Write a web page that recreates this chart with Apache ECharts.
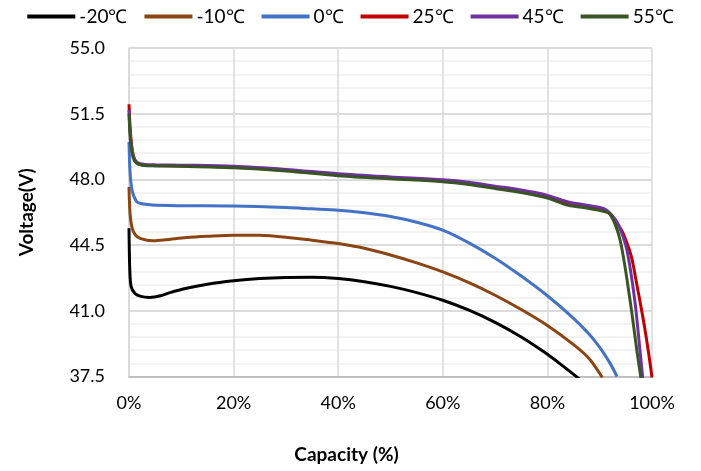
<!DOCTYPE html>
<html>
<head>
<meta charset="utf-8">
<script src="https://cdn.jsdelivr.net/npm/echarts@6/dist/echarts.min.js"></script>
<style>
html,body{margin:0;padding:0;background:#fff;}
#chart{width:701px;height:471px;}
</style>
</head>
<body>
<div id="chart"></div>
<script>
// ---- data ----
const seriesNames = ['-20℃', '-10℃', '0℃', '25℃', '45℃', '55℃'];
const xTicks = [0, 20, 40, 60, 80, 100];
const yTicks = [37.5, 41.0, 44.5, 48.0, 51.5, 55.0];

const capM20 = [0, 0.15, 0.4, 1.1, 2.1, 4, 6, 8, 11, 15, 20, 25, 30, 35, 40, 45, 50, 55, 60, 65, 70, 75, 80, 83, 86.2];
const voltM20 = [45.4, 43.2, 42.3, 41.93, 41.78, 41.71, 41.8, 41.98, 42.2, 42.42, 42.6, 42.72, 42.78, 42.79, 42.72, 42.55, 42.3, 41.97, 41.56, 41.03, 40.38, 39.6, 38.68, 38.05, 37.35];

const capM10 = [0, 0.2, 0.6, 1.2, 2.1, 4.6, 7, 11, 15, 20, 25, 30, 35, 40, 45, 50, 55, 60, 65, 70, 75, 80, 85, 88, 90.5];
const voltM10 = [47.6, 46.2, 45.4, 45.05, 44.86, 44.73, 44.78, 44.9, 44.97, 45.03, 45.02, 44.92, 44.76, 44.58, 44.33, 43.97, 43.55, 43.07, 42.5, 41.83, 41.07, 40.22, 39.2, 38.45, 37.45];

const cap0 = [0, 0.2, 0.6, 1.5, 2.5, 4.6, 10, 20, 30, 35, 40, 45, 50, 55, 60, 65, 70, 75, 80, 85, 88, 90, 92, 93.3];
const volt0 = [50.0, 48.4, 47.4, 46.8, 46.7, 46.63, 46.6, 46.58, 46.5, 46.43, 46.36, 46.22, 46.02, 45.72, 45.3, 44.62, 43.8, 42.85, 41.8, 40.6, 39.75, 39.05, 38.2, 37.5];

const cap25 = [0, 0.3, 0.8, 1.5, 3, 5, 10, 20, 30, 40, 50, 60, 65, 70, 75, 80, 84, 87.5, 90.7, 92.3, 93.6, 94.5, 96, 97, 98, 98.6, 99.3, 100];
const volt25 = [52.0, 50.4, 49.3, 48.9, 48.76, 48.74, 48.72, 48.65, 48.48, 48.25, 48.08, 47.93, 47.78, 47.57, 47.36, 47.08, 46.75, 46.58, 46.4, 46.05, 45.55, 45.12, 43.95, 42.55, 41.05, 40.1, 38.85, 37.45];

const cap45 = [0, 0.3, 0.8, 1.5, 3, 5, 10, 20, 30, 40, 50, 60, 65, 70, 75, 80, 84, 87.5, 90.7, 92.3, 93.6, 95.2, 96.7, 97.7, 98.3];
const volt45 = [51.7, 50.2, 49.25, 48.92, 48.8, 48.78, 48.76, 48.7, 48.53, 48.3, 48.13, 47.98, 47.85, 47.64, 47.43, 47.15, 46.8, 46.63, 46.45, 46.1, 45.57, 44.23, 41.57, 38.9, 37.2];

const cap55 = [0, 0.3, 0.8, 1.5, 3, 5, 10, 20, 30, 40, 50, 60, 65, 70, 75, 80, 84, 87.5, 90.7, 92, 93.9, 95.8, 97.1, 98.0];
const volt55 = [51.5, 50.0, 49.15, 48.85, 48.74, 48.72, 48.7, 48.62, 48.45, 48.2, 48.03, 47.88, 47.73, 47.52, 47.3, 47.0, 46.62, 46.48, 46.3, 46.15, 44.77, 41.57, 38.9, 37.2];

// ---- styles ----
const colors = ['#000000', '#8B4513', '#4472C4', '#C00000', '#7030A0', '#375623'];
const FONT = 'Lato, "Liberation Sans", sans-serif';

const caps = [capM20, capM10, cap0, cap25, cap45, cap55];
const volts = [voltM20, voltM10, volt0, volt25, volt45, volt55];

const chart = echarts.init(document.getElementById('chart'), null, {renderer: 'canvas'});
chart.setOption({
  animation: false,
  color: colors,
  textStyle: {fontFamily: FONT},
  legend: {
    top: 2,
    left: 'center',
    icon: 'rect',
    itemWidth: 48,
    itemHeight: 4,
    itemGap: 17,
    textStyle: {fontSize: 19, color: '#000', fontFamily: FONT, padding: [0, 0, 0, -1]},
    data: seriesNames
  },
  grid: {left: 129, right: 49, top: 48, bottom: 94.5, containLabel: false},
  xAxis: {
    type: 'value',
    min: xTicks[0],
    max: xTicks[xTicks.length - 1],
    interval: 20,
    name: 'Capacity (%)',
    nameLocation: 'middle',
    nameGap: 69,
    nameTextStyle: {fontSize: 19, fontWeight: 'bold', color: '#000', fontFamily: FONT, padding: [0, 88, 0, 0]},
    axisLine: {show: true, lineStyle: {color: '#bfbfbf', width: 2}},
    axisTick: {show: false},
    axisLabel: {fontSize: 18, color: '#000', margin: 18, formatter: v => v + '%'},
    splitLine: {show: true, lineStyle: {color: '#d9d9d9', width: 1.5}}
  },
  yAxis: {
    type: 'value',
    min: yTicks[0],
    max: yTicks[yTicks.length - 1],
    interval: 3.5,
    name: 'Voltage(V)',
    nameLocation: 'middle',
    nameGap: 93,
    nameTextStyle: {fontSize: 19, fontWeight: 'bold', color: '#000', fontFamily: FONT},
    axisLine: {show: true, lineStyle: {color: '#d9d9d9', width: 1.5}},
    axisTick: {show: false},
    axisLabel: {fontSize: 18, color: '#000', margin: 24, formatter: v => v.toFixed(1)},
    splitLine: {show: true, lineStyle: {color: '#d0d0d0', width: 1.5}},
    minorTick: {show: false, splitNumber: 5},
    minorSplitLine: {show: true, lineStyle: {color: '#efefef', width: 1.5}}
  },
  series: seriesNames.map((name, i) => ({
    name: name,
    type: 'line',
    data: caps[i].map((c, j) => [c, volts[i][j]]),
    showSymbol: false,
    symbol: 'none',
    smooth: 0.3,
    clip: true,
    lineStyle: {width: 3, color: colors[i]},
    itemStyle: {color: colors[i]}
  }))
});
</script>
</body>
</html>
